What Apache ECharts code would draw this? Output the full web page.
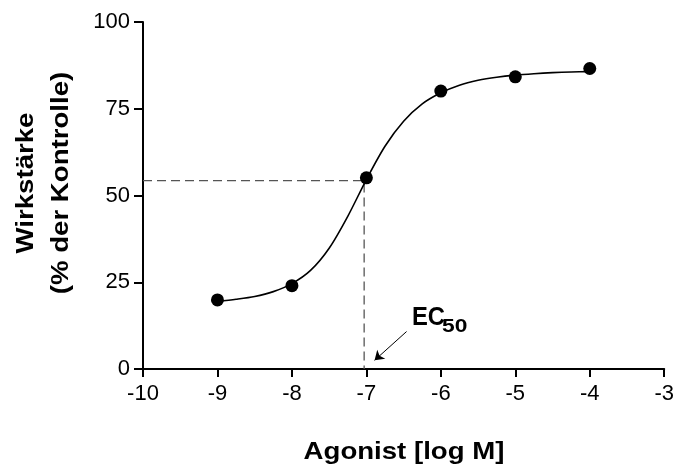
<!DOCTYPE html>
<html lang="de">
<head>
  <meta charset="UTF-8">
  <script src="https://cdn.jsdelivr.net/npm/echarts@6/dist/echarts.min.js"></script>
  <style>
    html, body { margin: 0; padding: 0; background: #fff; }
    #container { width: 677px; height: 472px; }
  </style>
</head>
<body>
  <div id="container"></div>
  <script>
    // Messpunkte
    var doses = [-9, -8, -7, -6, -5, -4];
    var responses = [19.9, 24.0, 55.1, 80.1, 84.2, 86.6];

    // Kurve
    var fitX = [-9.0, -8.75, -8.5, -8.25, -8.0, -7.75, -7.5, -7.25, -7.0, -6.75, -6.5,
                -6.25, -6.0, -5.75, -5.5, -5.25, -5.0, -4.75, -4.5, -4.25, -4.0];
    var fitY = [19.5, 20.1, 20.9, 22.3, 24.6, 28.4, 34.8, 44.0, 54.6, 64.2, 71.4,
                76.4, 79.6, 81.8, 83.2, 84.1, 84.7, 85.1, 85.4, 85.6, 85.7];

    // EC50 Hilfslinien + Pfeil
    var ec50 = [-7.03, 54.3];
    var arrowFrom = [-6.46, 10.8];
    var arrowTo = [-6.89, 2.5];

    var xTicks = { min: -10, max: -3, step: 1 };
    var yTicks = { min: 0, max: 100, step: 25 };

    var myChart = echarts.init(document.getElementById('container'));

    var fitData = fitX.map(function (x, i) { return [x, fitY[i]]; });
    var pointData = doses.map(function (x, i) { return [x, responses[i]]; });

    var font = '"Liberation Sans", Arial, Helvetica, sans-serif';

    function label(text, x, y, size, opts) {
      opts = opts || {};
      return {
        type: 'text',
        x: x,
        y: y,
        rotation: opts.rotation || 0,
        scaleX: opts.scaleX || 1,
        silent: true,
        style: {
          text: text,
          x: 0,
          y: 0,
          fill: '#000',
          fontSize: size,
          fontWeight: 'bold',
          fontFamily: font,
          align: opts.align || 'center',
          verticalAlign: 'middle',
          textAlign: opts.align || 'center',
          textVerticalAlign: 'middle'
        }
      };
    }

    var option = {
      backgroundColor: '#fff',
      animation: false,
      grid: { left: 143, right: 9, top: 22, bottom: 103, containLabel: false },
      xAxis: {
        type: 'value',
        min: xTicks.min,
        max: xTicks.max,
        interval: xTicks.step,
        splitLine: { show: false },
        axisLine: { show: true, onZero: false, lineStyle: { color: '#000', width: 2 } },
        axisTick: { show: true, length: 8, lineStyle: { color: '#000', width: 2 } },
        axisLabel: { color: '#000', fontSize: 22, fontFamily: font, margin: 14 }
      },
      yAxis: {
        type: 'value',
        min: yTicks.min,
        max: yTicks.max,
        interval: yTicks.step,
        splitLine: { show: false },
        axisLine: { show: true, onZero: false, lineStyle: { color: '#000', width: 2 } },
        axisTick: { show: true, length: 9, lineStyle: { color: '#000', width: 2 } },
        axisLabel: { color: '#000', fontSize: 22, fontFamily: font, margin: 13 }
      },
      series: [
        {
          type: 'line',
          silent: true,
          symbol: 'none',
          data: [[xTicks.min, ec50[1]], [ec50[0], ec50[1]], [ec50[0], 0]],
          lineStyle: { color: '#555', width: 1.3, type: [9, 5] },
          z: 1
        },
        {
          type: 'line',
          silent: true,
          symbol: 'none',
          smooth: 0.3,
          data: fitData,
          lineStyle: { color: '#000', width: 1.6 },
          z: 2
        },
        {
          type: 'scatter',
          symbol: 'circle',
          symbolSize: 13,
          data: pointData,
          itemStyle: { color: '#000', opacity: 1 },
          z: 3,
          markLine: {
            silent: true,
            symbol: ['none', 'arrow'],
            symbolSize: 9,
            label: { show: false },
            lineStyle: { color: '#000', width: 1, type: 'solid', opacity: 1 },
            data: [[{ coord: arrowFrom }, { coord: arrowTo }]]
          }
        }
      ],
      graphic: [
        label('Agonist [log M]', 404, 452, 24, { scaleX: 1.15 }),
        label('Wirkstärke', 26.5, 183, 24, { rotation: Math.PI / 2, scaleX: 1.15 }),
        label('(% der Kontrolle)', 61.5, 183, 24, { rotation: Math.PI / 2, scaleX: 1.15 }),
        label('EC', 412, 318, 25, { align: 'left', scaleX: 0.95 }),
        label('50', 442, 327, 19, { align: 'left', scaleX: 1.2 })
      ]
    };

    myChart.setOption(option);
  </script>
</body>
</html>
